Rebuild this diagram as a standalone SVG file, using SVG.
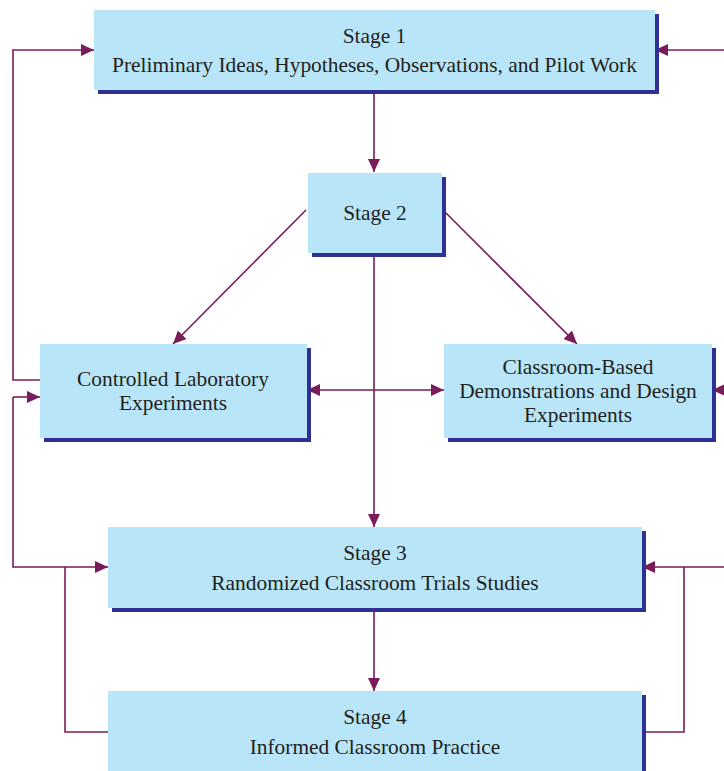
<svg xmlns="http://www.w3.org/2000/svg" width="724" height="771" viewBox="0 0 724 771">
<style>
.box{fill:#b9e5f8}
.sh{fill:#2e3192}
.t{font-family:"Liberation Serif","Times New Roman",serif;font-size:21.4px;fill:#231f20;text-anchor:middle}
.c{fill:none;stroke:#7b1c5a;stroke-width:1.6}
</style>
<defs>
<marker id="ah" markerUnits="userSpaceOnUse" markerWidth="14" markerHeight="12" refX="13" refY="6" orient="auto">
<path d="M0,0 L13,6 L0,12 Z" fill="#7b1c5a"/>
</marker>
<marker id="ahs" markerUnits="userSpaceOnUse" markerWidth="14" markerHeight="12" refX="13" refY="6" orient="auto-start-reverse">
<path d="M0,0 L13,6 L0,12 Z" fill="#7b1c5a"/>
</marker>
</defs>
<g id="connectors">
<line class="c" x1="374" y1="94" x2="374" y2="172" marker-end="url(#ah)"/>
<polyline class="c" points="40,380 13,380 13,50 94,50" marker-end="url(#ah)"/>
<line class="c" x1="724" y1="50" x2="655" y2="50" marker-end="url(#ah)"/>
<line class="c" x1="306" y1="210" x2="173" y2="344" marker-end="url(#ah)"/>
<line class="c" x1="444" y1="211" x2="577" y2="344" marker-end="url(#ah)"/>
<line class="c" x1="374" y1="257" x2="374" y2="527" marker-end="url(#ah)"/>
<line class="c" x1="307" y1="390" x2="444" y2="390" marker-start="url(#ahs)" marker-end="url(#ah)"/>
<line class="c" x1="724" y1="390" x2="712" y2="390" marker-end="url(#ah)"/>
<line class="c" x1="13" y1="397" x2="40" y2="397" marker-end="url(#ah)"/>
<polyline class="c" points="13,397 13,567 108,567" marker-end="url(#ah)"/>
<polyline class="c" points="65,567 65,732 108,732"/>
<line class="c" x1="724" y1="567" x2="642" y2="567" marker-end="url(#ah)"/>
<polyline class="c" points="684,567 684,732 642,732"/>
<line class="c" x1="374" y1="612" x2="374" y2="691" marker-end="url(#ah)"/>
</g>
<g id="stage1">
<rect class="sh" x="98" y="14" width="561" height="80"/>
<rect class="box" x="94" y="10" width="561" height="80"/>
<text class="t" x="374.5" y="42.5">Stage 1</text>
<text class="t" x="374.5" y="71.5">Preliminary Ideas, Hypotheses, Observations, and Pilot Work</text>
</g>
<g id="stage2">
<rect class="sh" x="312" y="177" width="134" height="80"/>
<rect class="box" x="308" y="173" width="134" height="80"/>
<text class="t" x="375" y="220">Stage 2</text>
</g>
<g id="lab">
<rect class="sh" x="44" y="348" width="267" height="94"/>
<rect class="box" x="40" y="344" width="267" height="94"/>
<text class="t" x="173" y="386">Controlled Laboratory</text>
<text class="t" x="173" y="410">Experiments</text>
</g>
<g id="classroom">
<rect class="sh" x="448" y="348" width="268" height="94"/>
<rect class="box" x="444" y="344" width="268" height="94"/>
<text class="t" x="578" y="374">Classroom-Based</text>
<text class="t" x="578" y="398">Demonstrations and Design</text>
<text class="t" x="578" y="422">Experiments</text>
</g>
<g id="stage3">
<rect class="sh" x="112" y="531" width="534" height="81"/>
<rect class="box" x="108" y="527" width="534" height="81"/>
<text class="t" x="375" y="560">Stage 3</text>
<text class="t" x="375" y="590">Randomized Classroom Trials Studies</text>
</g>
<g id="stage4">
<rect class="sh" x="112" y="695" width="534" height="80"/>
<rect class="box" x="108" y="691" width="534" height="80"/>
<text class="t" x="375" y="724">Stage 4</text>
<text class="t" x="375" y="754">Informed Classroom Practice</text>
</g>
</svg>
